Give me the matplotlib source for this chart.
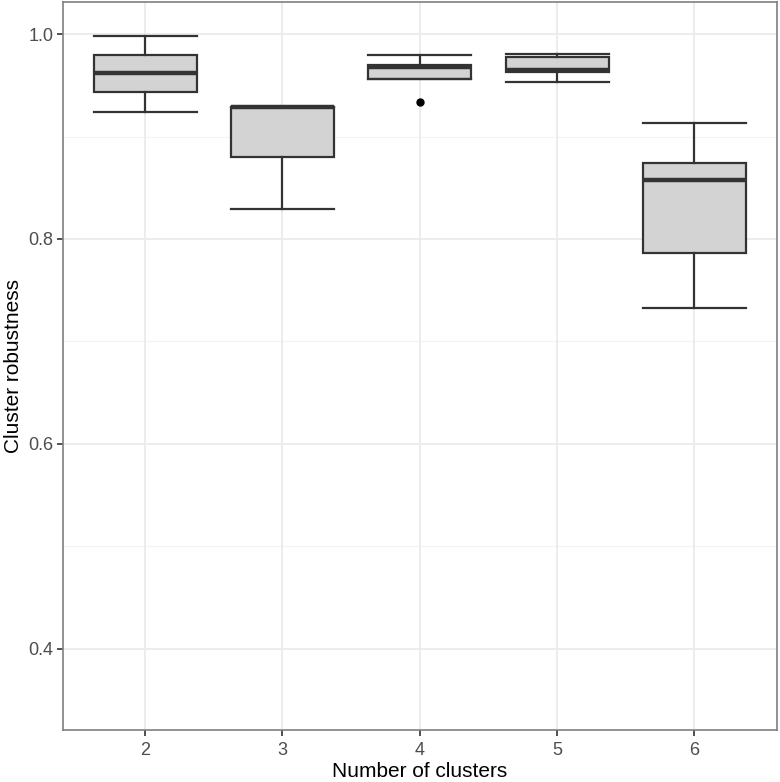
import numpy as np
import matplotlib.pyplot as plt

plt.rcParams['font.family'] = ['Liberation Sans', 'DejaVu Sans']

# box stats
clusters = ['2', '3', '4', '5', '6']
whislo = [0.924, 0.829, 0.956, 0.953, 0.733]
q1 = [0.943, 0.880, 0.956, 0.963, 0.786]
med = [0.9625, 0.929, 0.968, 0.965, 0.858]
q3 = [0.980, 0.929, 0.970, 0.9775, 0.874]
whishi = [0.998, 0.929, 0.980, 0.981, 0.913]
fliers = [[], [], [0.934], [], []]

stats = []
for i in range(len(clusters)):
    stats.append(dict(label=clusters[i], whislo=whislo[i], q1=q1[i], med=med[i],
                      q3=q3[i], whishi=whishi[i], fliers=fliers[i]))

fig = plt.figure(figsize=(7.8, 7.82), dpi=100)
ax = fig.add_axes([0.0804, 0.0665, 0.9154, 0.9305])

# grid like theme_bw
for y in [0.5, 0.7, 0.9]:
    ax.axhline(y, color='#F2F2F2', lw=0.8, zorder=0)
for y in [0.4, 0.6, 0.8, 1.0]:
    ax.axhline(y, color='#EBEBEB', lw=1.3, zorder=0)
for x in range(1, len(clusters) + 1):
    ax.axvline(x, color='#EBEBEB', lw=1.3, zorder=0)

ax.bxp(stats, positions=range(1, len(clusters) + 1), widths=0.75, capwidths=0.75,
       patch_artist=True,
       boxprops=dict(facecolor='#D3D3D3', edgecolor='#333333', lw=1.6),
       medianprops=dict(color='#333333', lw=3.2),
       whiskerprops=dict(color='#333333', lw=1.6),
       capprops=dict(color='#333333', lw=1.6),
       flierprops=dict(marker='o', markerfacecolor='black', markeredgecolor='black',
                       markersize=5),
       zorder=2)

ax.set_xlim(0.4, 5.6)
ax.set_ylim(0.3206, 1.031)
ax.set_yticks([0.4, 0.6, 0.8, 1.0])
ax.set_yticklabels(['0.4', '0.6', '0.8', '1.0'])
ax.set_xticks(range(1, len(clusters) + 1))
ax.set_xticklabels(clusters)
ax.tick_params(colors='#333333', labelcolor='#4D4D4D', labelsize=13, length=4, width=1.2,
               pad=2.5)
ax.tick_params(axis='x', pad=5)

for s in ax.spines.values():
    s.set_color('#7F7F7F')
    s.set_linewidth(1.2)

ax.set_xlabel('Number of clusters', fontsize=15, labelpad=2)
ax.set_ylabel('Cluster robustness', fontsize=15, labelpad=4)

fig.savefig('out.png', dpi=100)
